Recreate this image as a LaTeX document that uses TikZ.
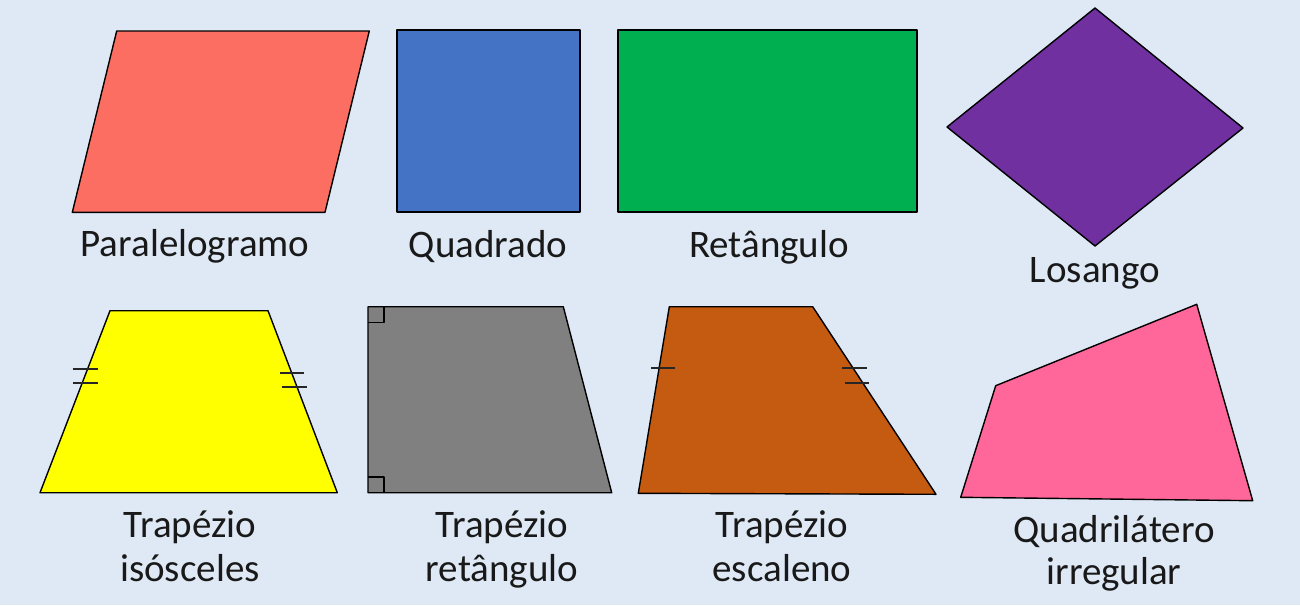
\documentclass[tikz,border=0pt]{standalone}
\usepackage{fontspec}
\setmainfont{Carlito}
\definecolor{bg}{RGB}{222,233,245}
\definecolor{cpar}{RGB}{252,110,98}
\definecolor{cquad}{RGB}{68,114,196}
\definecolor{cret}{RGB}{0,176,80}
\definecolor{clos}{RGB}{112,48,160}
\definecolor{ciso}{RGB}{255,255,0}
\definecolor{cretr}{RGB}{128,128,128}
\definecolor{cesc}{RGB}{197,90,17}
\definecolor{cirr}{RGB}{255,102,153}
\begin{document}
\begin{tikzpicture}[x=0.5pt,y=-0.5pt,
  poly/.style={draw=black,line width=0.7pt,line join=round},
  tickmark/.style={draw=black!85,line width=0.8pt},
  lbl/.style={font=\fontsize{19.5}{24}\selectfont,anchor=base,inner sep=0pt,text=black!90}]
\fill[bg] (0,0) rectangle (1300,605);
\useasboundingbox (0,0) rectangle (1300,605);
% top row
\filldraw[poly,fill=cpar] (116.7,31) -- (369.3,31) -- (325,212.3) -- (72.3,212.3) -- cycle;
\filldraw[poly,fill=cquad] (397,30) rectangle (580,212);
\filldraw[poly,fill=cret] (618,30) rectangle (917,212);
\filldraw[poly,fill=clos] (1095,8) -- (1243,128) -- (1095,246) -- (947,127) -- cycle;
% bottom row
\filldraw[poly,fill=ciso] (110,310.7) -- (268,310.7) -- (337.3,492.7) -- (40,492.7) -- cycle;
\draw[tickmark] (72.7,369) -- (97.7,369);
\draw[tickmark] (72.7,382.7) -- (97.7,382.7);
\draw[tickmark] (280,372.7) -- (304.3,372.7);
\draw[tickmark] (281.7,386.7) -- (306.7,386.7);
\filldraw[poly,fill=cretr] (368,306.7) -- (563.3,306.7) -- (611.7,492.7) -- (368,492.7) -- cycle;
\draw[poly] (368,322.5) -- (384,322.5) -- (384,306.7);
\draw[poly] (368,477) -- (384,477) -- (384,492.7);
\filldraw[poly,fill=cesc] (669.3,306.7) -- (812.7,306.7) -- (936,494.3) -- (638.3,493.3) -- cycle;
\draw[tickmark] (651,367.7) -- (675.3,367.7);
\draw[tickmark] (842,367.7) -- (866.7,367.7);
\draw[tickmark] (845,382.7) -- (868.7,382.7);
\filldraw[poly,fill=cirr] (1196.7,304.3) -- (995.7,385.7) -- (960.7,497.3) -- (1252.7,500.7) -- cycle;
% labels
\node[lbl] (lpar) at (195,256) {Paralelogramo};
\node[lbl] (lquad) at (488,257) {Quadrado};
\node[lbl] (lret) at (769,257) {Retângulo};
\node[lbl] (llos) at (1095,282) {Losango};
\node[lbl] (liso1) at (190,537) {Trapézio};
\node[lbl] (liso2) at (190,581) {isósceles};
\node[lbl] (lretr1) at (502,537) {Trapézio};
\node[lbl] (lretr2) at (502,581) {retângulo};
\node[lbl] (lesc1) at (782,537) {Trapézio};
\node[lbl] (lesc2) at (782,581) {escaleno};
\node[lbl] (lirr1) at (1114,542) {Quadrilátero};
\node[lbl] (lirr2) at (1114,584) {irregular};
\end{tikzpicture}
\end{document}
